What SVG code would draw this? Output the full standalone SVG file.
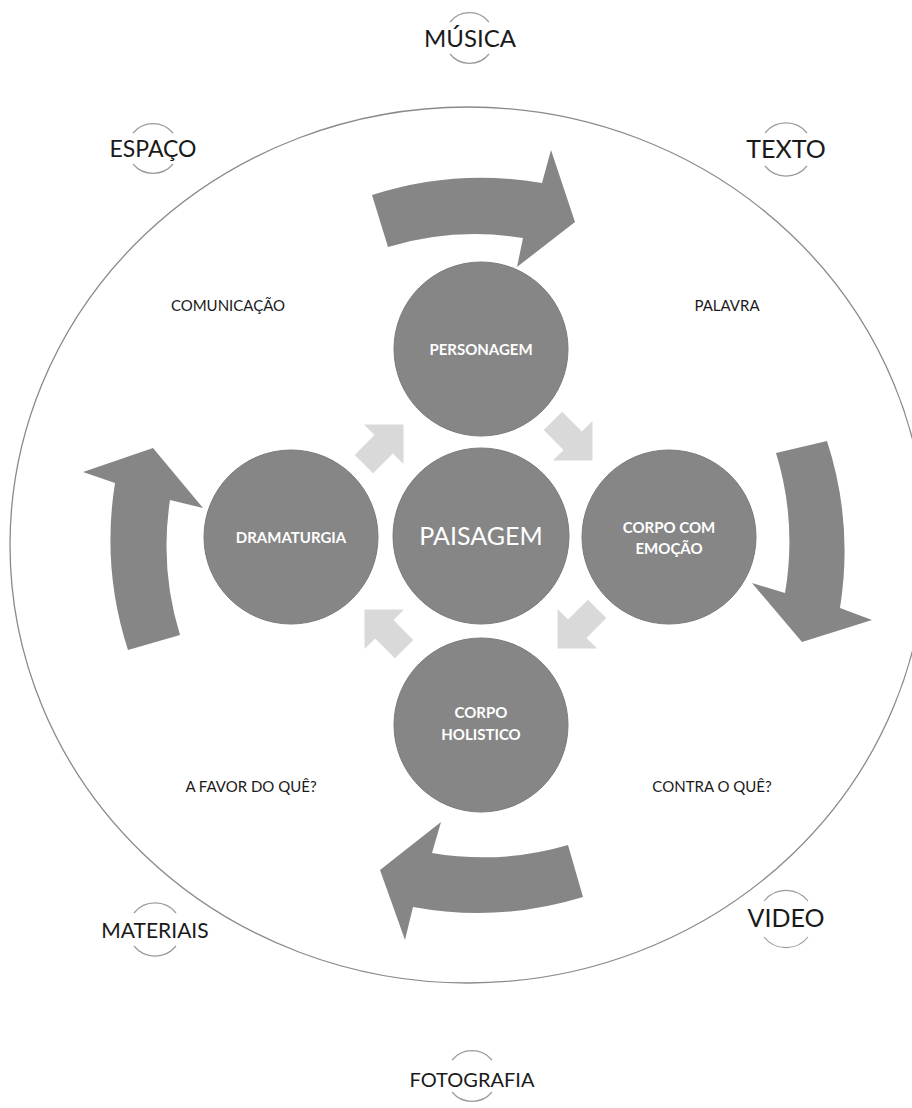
<svg xmlns="http://www.w3.org/2000/svg" width="912" height="1108" viewBox="0 0 912 1108">
<defs>
<style>
.bg{fill:#ffffff}
.ring{fill:none;stroke:#8a8a8a;stroke-width:1.3}
.node{fill:#868686;stroke:#7a7a7a;stroke-width:1}
.big{fill:#868686}
.small{fill:#d9d9d9}
.w{fill:#ffffff;font-family:Lato,"Open Sans",sans-serif;text-anchor:middle}
.wb{font-weight:bold}
.k{fill:#1a1a1a;font-family:Lato,"Open Sans",sans-serif;text-anchor:middle}
.arc{fill:none;stroke:#9a9a9a;stroke-width:1.2}
</style>
<path id="sa" d="M -27,-13 L 1,-13 L 1,-28 L 29,0 L 1,28 L 1,13 L -27,13 Z"/>
</defs>
<rect class="bg" x="0" y="0" width="912" height="1108"/>
<ellipse class="ring" cx="468" cy="545" rx="458" ry="438"/>

<g id="connectors">
<path class="big" d="M 372,195 A 358 358 0 0 1 542,183 L 551,150 L 575,222 L 517,267 L 523,238 A 303 303 0 0 0 388,247 Z"/>
<path class="big" d="M 827,441 A 358 358 0 0 1 840,608 L 872,620 L 802,642 L 752,583 L 785,593 A 303 303 0 0 0 776,453 Z"/>
<path class="big" d="M 583,897 A 358 358 0 0 1 413,907 L 405,940 L 380,870 L 441,822 L 432,853 A 303 303 0 0 0 568,845 Z"/>
<path class="big" d="M 128,650 A 358 358 0 0 1 115,483 L 83,472 L 153,448 L 203,508 L 170,500 A 303 303 0 0 0 180,635 Z"/>
<use href="#sa" class="small" transform="translate(572,440) rotate(45)"/>
<use href="#sa" class="small" transform="translate(578,628) rotate(135)"/>
<use href="#sa" class="small" transform="translate(385,630) rotate(-135)"/>
<use href="#sa" class="small" transform="translate(383,445) rotate(-45)"/>
</g>

<g id="node-paisagem">
<circle class="node" cx="481" cy="536" r="88"/>
<text class="w" x="481" y="545" font-size="25">PAISAGEM</text>
</g>
<g id="node-personagem">
<circle class="node" cx="481" cy="349" r="87"/>
<text class="w wb" x="481" y="355" font-size="15">PERSONAGEM</text>
</g>
<g id="node-corpo-emocao">
<circle class="node" cx="669" cy="537" r="87"/>
<text class="w wb" x="669" y="533" font-size="15">CORPO COM</text>
<text class="w wb" x="669" y="554" font-size="15">EMOÇÃO</text>
</g>
<g id="node-holistico">
<circle class="node" cx="481" cy="725" r="87"/>
<text class="w wb" x="481" y="718" font-size="15">CORPO</text>
<text class="w wb" x="481" y="740" font-size="15">HOLISTICO</text>
</g>
<g id="node-dramaturgia">
<circle class="node" cx="291" cy="537" r="87"/>
<text class="w wb" x="291" y="543" font-size="15">DRAMATURGIA</text>
</g>

<g id="label-comunicacao"><text class="k" x="228" y="311" font-size="15">COMUNICAÇÃO</text></g>
<g id="label-palavra"><text class="k" x="727" y="311" font-size="15">PALAVRA</text></g>
<g id="label-favor"><text class="k" x="251" y="792" font-size="15">A FAVOR DO QUÊ?</text></g>
<g id="label-contra"><text class="k" x="712" y="792" font-size="15">CONTRA O QUÊ?</text></g>

<g id="outer-musica">
<path class="arc" d="M 450,22 A 25 25 0 0 1 489,22"/>
<path class="arc" d="M 450,54 A 25 25 0 0 0 489,54"/>
<text class="k" x="470" y="47" font-size="24">MÚSICA</text>
</g>
<g id="outer-espaco">
<path class="arc" d="M 133,133 A 26 26 0 0 1 173,133"/>
<path class="arc" d="M 133,164 A 26 26 0 0 0 173,164"/>
<text class="k" x="153" y="157" font-size="23">ESPAÇO</text>
</g>
<g id="outer-texto">
<path class="arc" d="M 765,133 A 27 27 0 0 1 807,133"/>
<path class="arc" d="M 765,166 A 27 27 0 0 0 807,166"/>
<text class="k" x="786" y="158" font-size="25">TEXTO</text>
</g>
<g id="outer-materiais">
<path class="arc" d="M 134,913 A 27 27 0 0 1 176,913"/>
<path class="arc" d="M 134,946 A 27 27 0 0 0 176,946"/>
<text class="k" x="155" y="938" font-size="21">MATERIAIS</text>
</g>
<g id="outer-video">
<path class="arc" d="M 764,901 A 28 28 0 0 1 808,901"/>
<path class="arc" d="M 764,937 A 28 28 0 0 0 808,937"/>
<text class="k" x="786" y="927" font-size="25">VIDEO</text>
</g>
<g id="outer-fotografia">
<path class="arc" d="M 452,1060 A 26 26 0 0 1 492,1060"/>
<path class="arc" d="M 452,1092 A 26 26 0 0 0 492,1092"/>
<text class="k" x="472" y="1087" font-size="20">FOTOGRAFIA</text>
</g>
</svg>
